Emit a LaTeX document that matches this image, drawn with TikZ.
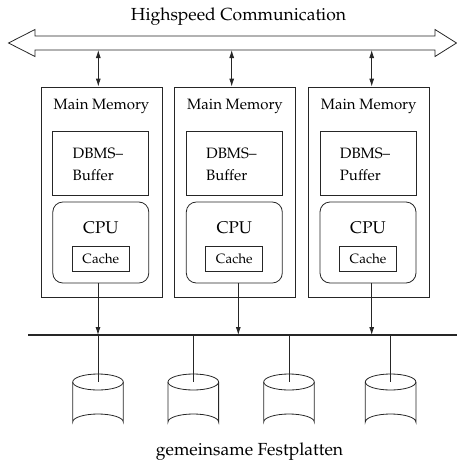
\documentclass[tikz,border=0pt]{standalone}
\usepackage[T1]{fontenc}
\usepackage{mathpazo}
\usetikzlibrary{arrows.meta}
\tikzset{
  line/.style={draw=black!85, line width=0.8pt},
  outerbox/.style={line, minimum width=121pt, minimum height=210pt, inner sep=0pt},
  dbmsbox/.style={line, minimum width=96pt, minimum height=64pt, inner sep=0pt},
  cpubox/.style={line, rounded corners=10pt, minimum width=96pt, minimum height=81pt, inner sep=0pt},
  cachebox/.style={line, minimum width=57pt, minimum height=25pt, inner sep=0pt},
  lbl/.style={inner sep=0pt, font=\fontsize{15}{22}\selectfont},
  tip/.style={-{Latex[length=8pt,width=5pt]}},
  dtip/.style={{Latex[length=8pt,width=5pt]}-{Latex[length=8pt,width=5pt]}},
}
\begin{document}
\begin{tikzpicture}[x=1pt,y=-1pt]
\useasboundingbox (0,0) rectangle (457,466);
% high speed communication
\node[inner sep=0pt, font=\fontsize{17.5}{20}\selectfont] (title) at (238.5,17) {Highspeed Communication};
\draw[line] (8.5,43) -- (35,29.5) -- (35,36) -- (435,36) -- (435,29.5) -- (456.5,43) -- (435,56.5) -- (435,50) -- (35,50) -- (35,56.5) -- cycle;
% columns
\foreach \i/\bx/\tx/\ax/\word in {1/101.5/98.3/98/Buffer, 2/235/231.7/238.3/Buffer, 3/368.7/371.7/371.7/Puffer}{
  \node[outerbox] (box\i) at (\bx,192) {};
  \node[lbl] (mm\i) at (\bx,106) {Main Memory};
  \node[dbmsbox] (dbms\i) at (\bx-0.7,163) {};
  \node[lbl, align=left, anchor=west] (dbt\i) at (\bx-29,164) {DBMS--\\\word};
  \node[cpubox] (cpu\i) at (\bx-0.7,242.5) {};
  \node[lbl, font=\fontsize{17}{20}\selectfont] (cput\i) at (\bx-0.7,228) {CPU};
  \node[cachebox, font=\fontsize{13.5}{16}\selectfont] (cache\i) at (\bx-0.7,258.5) {Cache};
  \coordinate (top\i) at (\tx,50);
  \coordinate (out\i) at (\ax,283);
  \draw[line, dtip] (top\i) -- (top\i |- box\i.north);
}
% bus
\coordinate (busL) at (28,335);
\coordinate (busR) at (457,335);
\draw[line, line width=1.2pt] (busL) -- (busR);
\foreach \i in {1,2,3}{
  \draw[line, tip] (out\i) -- (out\i |- busL);
}
% disks
\foreach \j/\dx in {1/98, 2/193.3, 3/289, 4/390.6}{
  \coordinate (d\j) at (\dx,382);
  \draw[line] (\dx-25.3,382) -- (\dx-25.3,422) arc[start angle=180, end angle=360, x radius=25.3, y radius=8] -- (\dx+25.3,382);
  \draw[line] (d\j) ellipse[x radius=25.3, y radius=8];
  \draw[line] (d\j |- busL) -- (d\j);
}
\node[inner sep=0pt, font=\fontsize{17.5}{20}\selectfont] (foot) at (249.5,452) {gemeinsame Festplatten};
\end{tikzpicture}
\end{document}
